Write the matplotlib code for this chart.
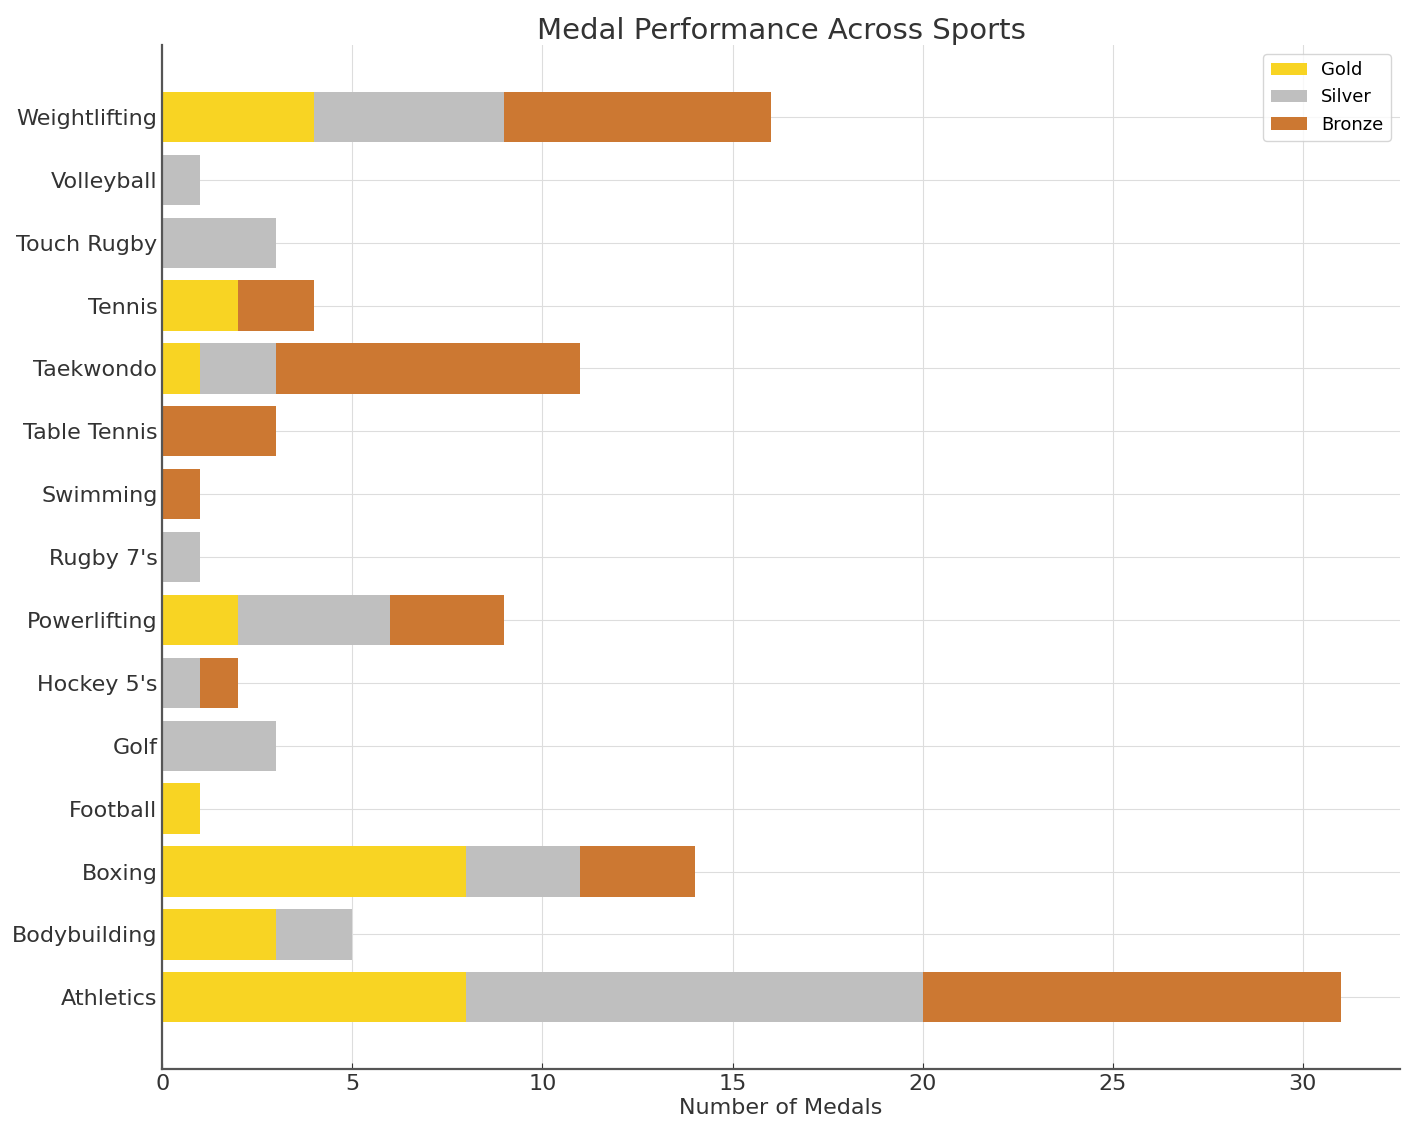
import matplotlib
matplotlib.use("Agg")
import matplotlib.pyplot as plt
import numpy as np

sports = ["Athletics", "Bodybuilding", "Boxing", "Football", "Golf", "Hockey 5's",
          "Powerlifting", "Rugby 7's", "Swimming", "Table Tennis", "Taekwondo",
          "Tennis", "Touch Rugby", "Volleyball", "Weightlifting"]
gold   = [8, 3, 8, 1, 0, 0, 2, 0, 0, 0, 1, 2, 0, 0, 4]
silver = [12, 2, 3, 0, 3, 1, 4, 1, 0, 0, 2, 0, 3, 1, 5]
bronze = [11, 0, 3, 0, 0, 1, 3, 0, 1, 3, 8, 2, 0, 0, 7]

gold = np.array(gold)
silver = np.array(silver)
bronze = np.array(bronze)

fig = plt.figure(figsize=(14.11, 11.3), dpi=100)
ax = fig.add_axes([0.115, 0.054, 0.877, 0.906])

ax.barh(sports, gold, color="#F8D423", label="Gold")
ax.barh(sports, silver, left=gold, color="#BFBFBF", label="Silver")
ax.barh(sports, bronze, left=gold + silver, color="#CC7832", label="Bronze")

ax.set_title("Medal Performance Across Sports", fontsize=21, color="#333333", pad=4)
ax.set_xlabel("Number of Medals", fontsize=16, color="#333333", labelpad=3)
ax.tick_params(axis="both", direction="in", labelsize=16, colors="#333333", length=4)
for s in ["top", "right"]:
    ax.spines[s].set_visible(False)
for s in ["left", "bottom"]:
    ax.spines[s].set_color("#555555")
    ax.spines[s].set_linewidth(1.6)
ax.grid(True, color="#dddddd", linewidth=0.8)
ax.set_axisbelow(True)
ax.legend(loc="upper right", fontsize=13, frameon=True, edgecolor="#cccccc")

fig.savefig("out.png", dpi=100)
